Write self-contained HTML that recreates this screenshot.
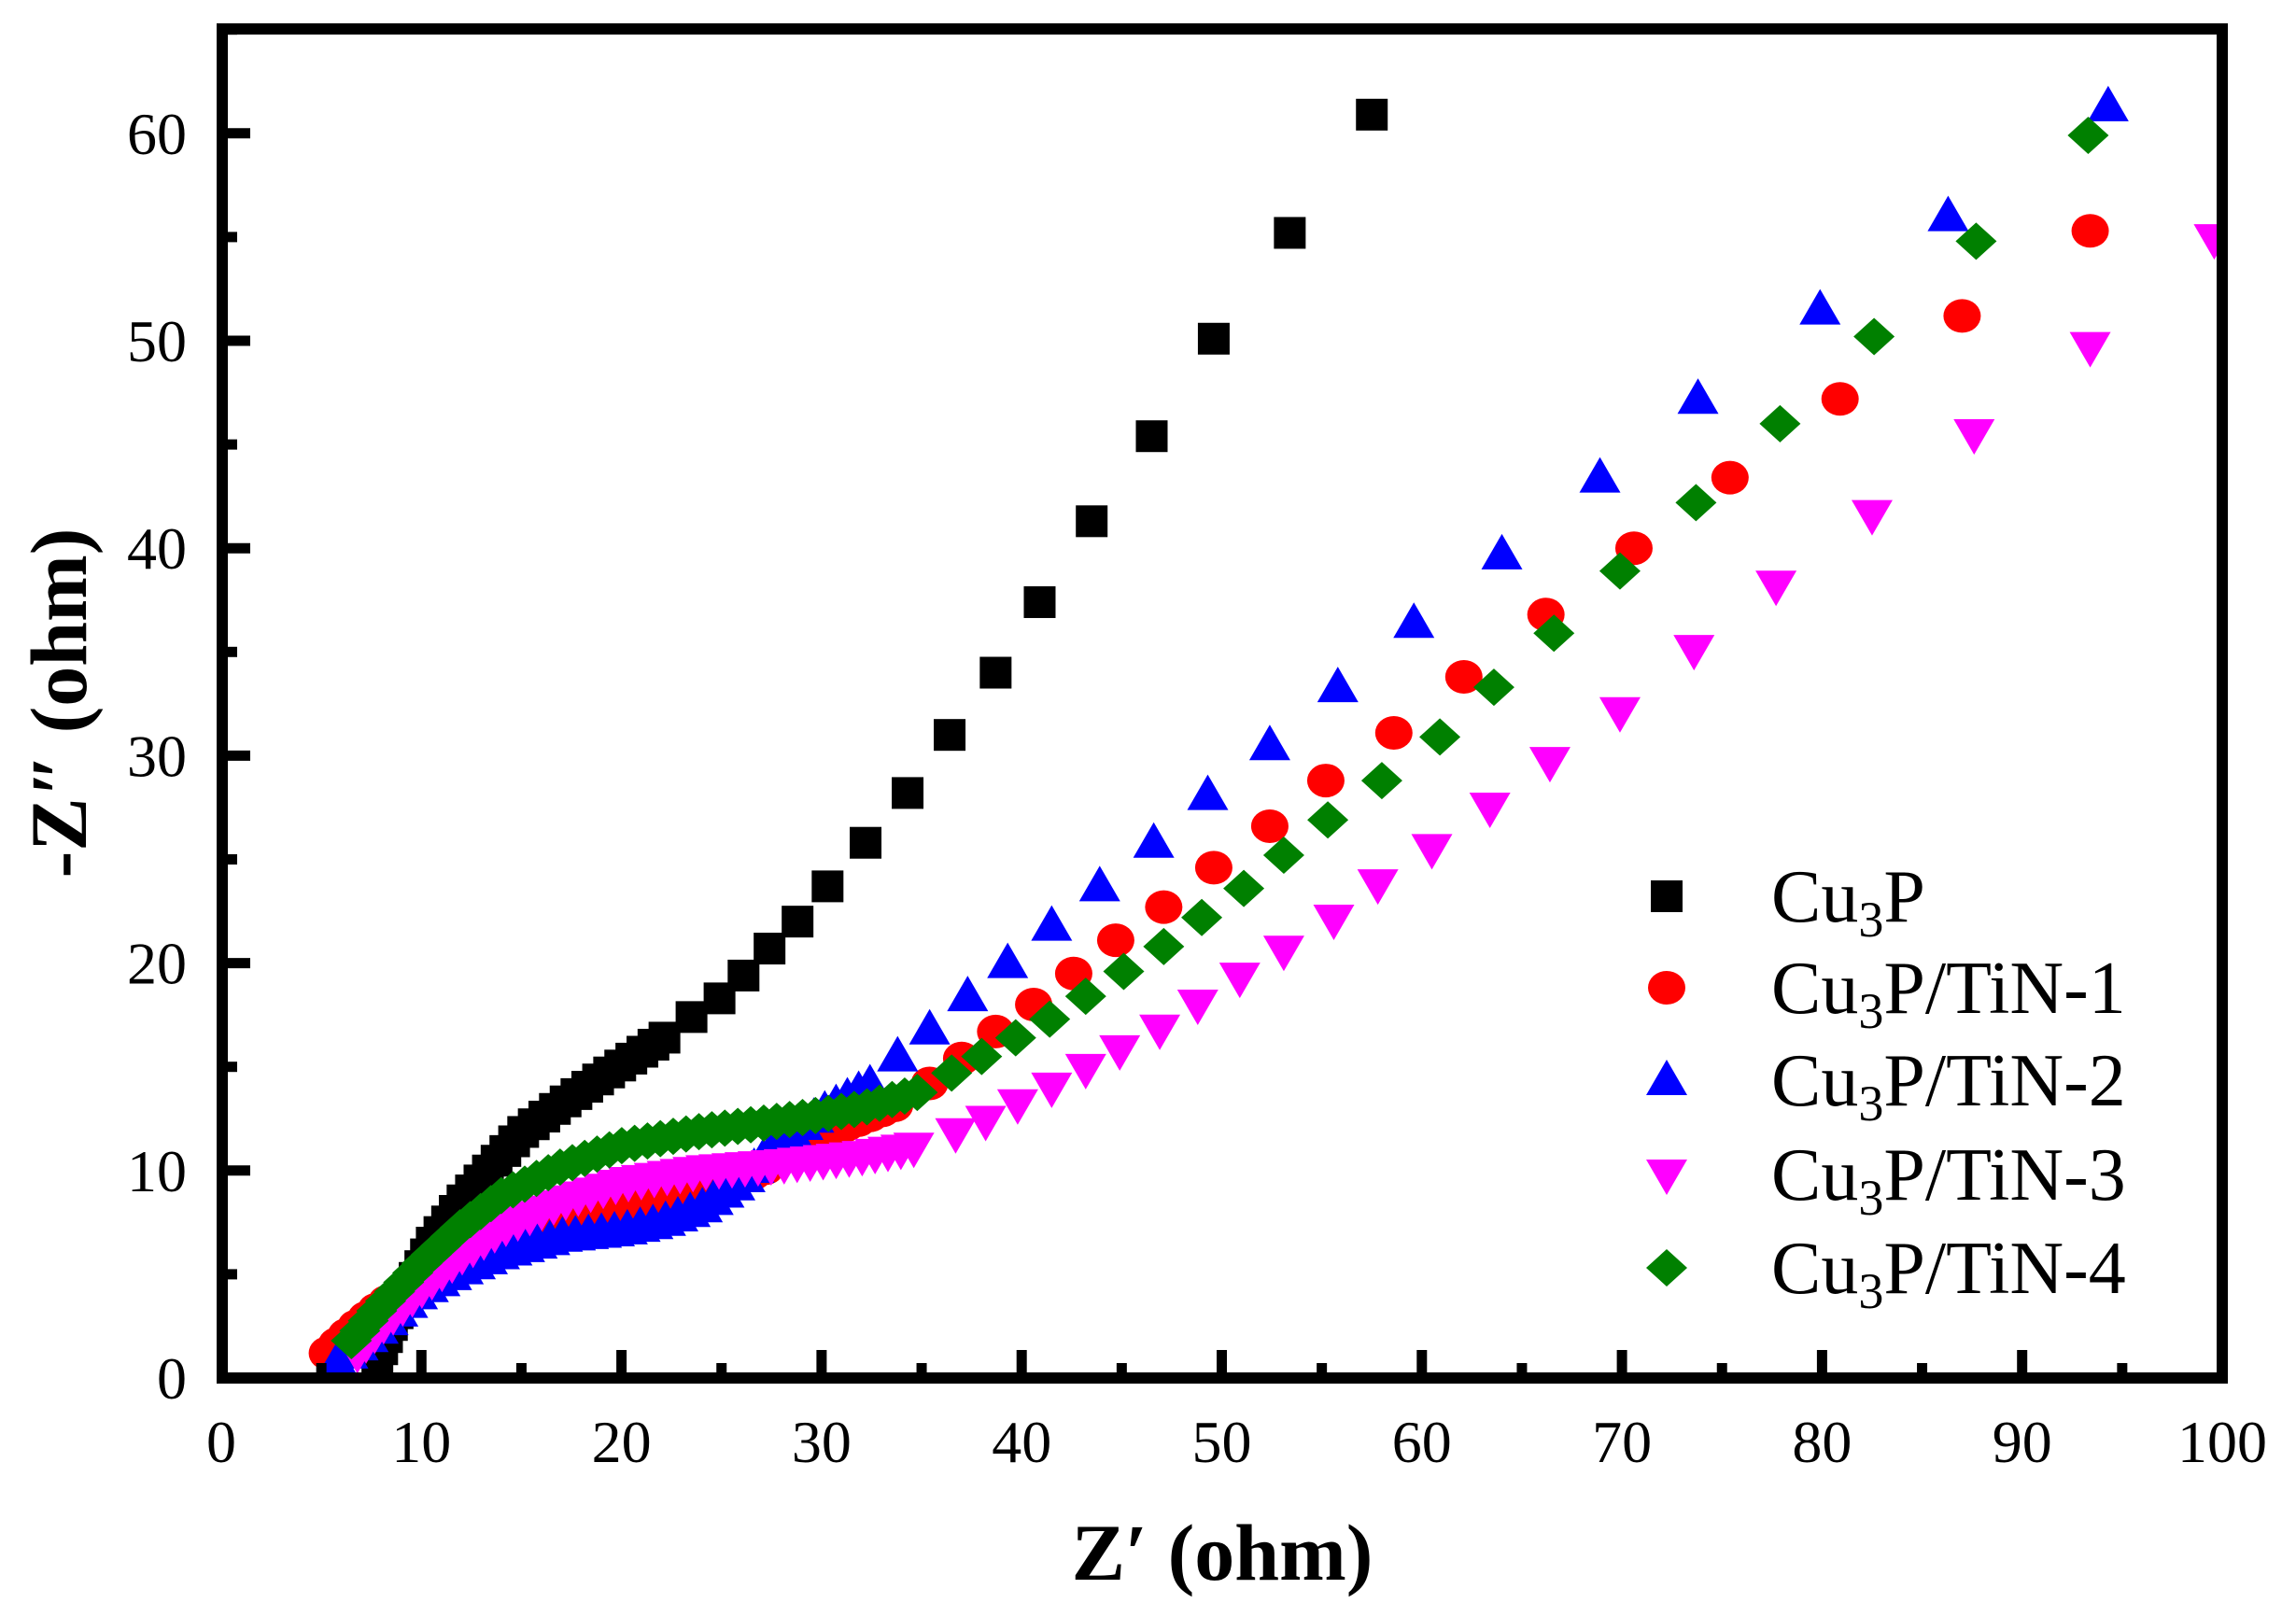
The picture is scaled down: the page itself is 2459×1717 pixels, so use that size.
<!DOCTYPE html>
<html><head><meta charset="utf-8"><style>
html,body{margin:0;padding:0;background:#fff;}
svg{display:block;}
text{font-family:"Liberation Serif",serif;}
</style></head><body>
<svg id="s" width="2459" height="1717" viewBox="0 0 2459 1717" xmlns="http://www.w3.org/2000/svg">
<defs><clipPath id="c"><rect x="238" y="31" width="2142" height="1445"/></clipPath></defs>
<g id="data" clip-path="url(#c)"></g>
<g id="axes"></g>
</svg>
<script>
const NS="http://www.w3.org/2000/svg";
const X=x=>237+21.43*x, Y=y=>1476-22.22*y;
function el(p,t,a){const e=document.createElementNS(NS,t);for(const k in a)e.setAttribute(k,a[k]);p.appendChild(e);return e;}
const ax=document.getElementById('axes'), dg=document.getElementById('data');
el(ax,'rect',{x:238,y:31,width:2142,height:1445,fill:'none',stroke:'#000','stroke-width':12});
for(let i=0;i<=20;i++){const v=i*5,x=X(v),maj=i%2==0;
 if(v>0&&v<100) el(ax,'line',{x1:x,x2:x,y1:1476,y2:1476-(maj?30:16),stroke:'#000','stroke-width':11});
 if(maj){const t=el(ax,'text',{x:x,y:1566,'font-size':64,'text-anchor':'middle'});t.textContent=v;}}
for(let i=0;i<=13;i++){const v=i*5,y=Y(v),maj=i%2==0;
 if(v>0) el(ax,'line',{x1:238,x2:238+(maj?30:16),y1:y,y2:y,stroke:'#000','stroke-width':11});
 if(maj){const t=el(ax,'text',{x:200,y:y+22,'font-size':64,'text-anchor':'end'});t.textContent=v;}}
let t=el(ax,'text',{x:1309,y:1692,'font-size':86,'font-weight':'bold','text-anchor':'middle'});t.textContent='Z\u2032 (ohm)';
t=el(ax,'text',{x:0,y:0,'font-size':86,'font-weight':'bold','text-anchor':'middle',transform:'translate(92,753) rotate(-90)'});t.textContent='-Z\u2033 (ohm)';

function dense(pts,step){const out=[];let acc=0;out.push(pts[0]);
 for(let i=1;i<pts.length;i++){const [x0,y0]=pts[i-1],[x1,y1]=pts[i];
  const d=Math.hypot(X(x1)-X(x0),Y(y1)-Y(y0));let s=step-acc;
  while(s<=d){const f=s/d;out.push([x0+(x1-x0)*f,y0+(y1-y0)*f]);s+=step;}acc=d-(s-step);}
 return out;}
function mk(g,type,cx,cy,col){
 if(type=='sq') el(g,'rect',{x:cx-17,y:cy-17,width:34,height:34,fill:col});
 else if(type=='ci') el(g,'ellipse',{cx:cx,cy:cy,rx:20,ry:18,fill:col});
 else if(type=='up') el(g,'polygon',{points:`${cx-22},${cy+16} ${cx+22},${cy+16} ${cx},${cy-22}`,fill:col});
 else if(type=='dn') el(g,'polygon',{points:`${cx-22},${cy-16} ${cx+22},${cy-16} ${cx},${cy+22}`,fill:col});
 else el(g,'polygon',{points:`${cx-22},${cy} ${cx},${cy-20} ${cx+22},${cy} ${cx},${cy+20}`,fill:col});}
const S=[
 {type:'sq',col:'#000',d:[[7.8,0.8],[8.5,2.5],[9.5,4.5],[10.5,6.5],[12,8.5],[13.5,10.2],[15,11.8],[17,13.2],[19,14.5],[21,15.7],[22.3,16.5]],
  s:[[23.5,17.4],[24.9,18.3],[26.1,19.4],[27.4,20.7],[28.8,22],[30.3,23.7],[32.2,25.8],[34.3,28.2],[36.4,31],[38.7,34],[40.9,37.4],[43.5,41.3],[46.5,45.4],[49.6,50.1],[53.4,55.2],[57.5,60.9]]},
 {type:'ci',col:'#ff0000',d:[[5.3,1.2],[6.5,2.3],[8,3.5],[10,4.8],[12,5.8],[15,7],[18,7.8],[21,8.3],[24,9],[27,10],[30,11.7],[33.8,13.2]],
  s:[[35.4,14.2],[37,15.4],[38.7,16.7],[40.6,18],[42.6,19.5],[44.7,21.1],[47.1,22.7],[49.6,24.6],[52.4,26.6],[55.2,28.8],[58.6,31.1],[62.1,33.8],[66.2,36.8],[70.6,40],[75.4,43.4],[80.9,47.2],[87,51.2],[93.4,55.3]]},
 {type:'up',col:'#0000ff',d:[[5.8,0.8],[6.5,1.3],[8,2.5],[10,4.2],[12,5.2],[14,6],[17,6.8],[20,7.1],[22,7.5],[24,8.2],[26,9.5],[28,11.5],[30,12.8],[32.5,14.2]],
  s:[[33.8,15.5],[35.4,16.8],[37.3,18.4],[39.3,20],[41.5,21.8],[43.9,23.7],[46.6,25.8],[49.3,28.1],[52.4,30.5],[55.8,33.3],[59.6,36.4],[64,39.7],[68.9,43.4],[73.8,47.2],[79.9,51.5],[86.3,56],[94.3,61.3]]},
 {type:'dn',col:'#ff00ff',d:[[6.8,1.2],[8,2.5],[10,4.3],[12,5.9],[14,7.2],[17,8.5],[20,9.4],[24,10],[28,10.3],[32,10.7],[35.2,11.2]],
  s:[[36.7,11.8],[38.2,12.4],[39.8,13.2],[41.5,14],[43.2,14.9],[44.9,15.8],[46.9,16.8],[48.8,18],[50.9,19.3],[53.1,20.6],[55.6,22.1],[57.8,23.8],[60.5,25.5],[63.4,27.5],[66.4,29.7],[69.9,32.1],[73.6,35.1],[77.7,38.2],[82.5,41.6],[87.6,45.5],[93.4,49.7],[99.6,54.9]]},
 {type:'di',col:'#008000',d:[[6.5,1.8],[8,3.5],[10,5.5],[12,7.3],[14,8.8],[17,10.2],[20,11.2],[24,11.9],[28,12.4],[32,13],[34.9,13.8]],
  s:[[36.5,14.7],[38,15.5],[39.7,16.4],[41.4,17.3],[43.2,18.4],[45.1,19.6],[47.1,20.8],[49,22.2],[51.1,23.6],[53.1,25.2],[55.3,26.9],[58,28.8],[60.9,30.9],[63.6,33.3],[66.6,35.9],[69.9,38.9],[73.7,42.2],[77.9,46],[82.6,50.2],[87.7,54.8],[93.3,59.9]]}
];
const suf=['P','P/TiN-1','P/TiN-2','P/TiN-3','P/TiN-4'];
S.forEach((s,i)=>{const g=el(dg,'g',{});
 dense(s.d,14).forEach(p=>mk(g,s.type,X(p[0]),Y(p[1]),s.col));
 s.s.forEach(p=>mk(g,s.type,X(p[0]),Y(p[1]),s.col));
 const ly=[960,1058,1157,1258,1358][i];
 mk(ax,s.type,1785,ly,s.col);
 const tx=el(ax,'text',{x:1897,y:ly+27,'font-size':80});
 tx.appendChild(document.createTextNode('Cu'));
 const sb=el(tx,'tspan',{'font-size':54,dy:16});sb.textContent='3';
 const r=el(tx,'tspan',{'font-size':80,dy:-16});r.textContent=suf[i];
});
</script>
</body></html>
